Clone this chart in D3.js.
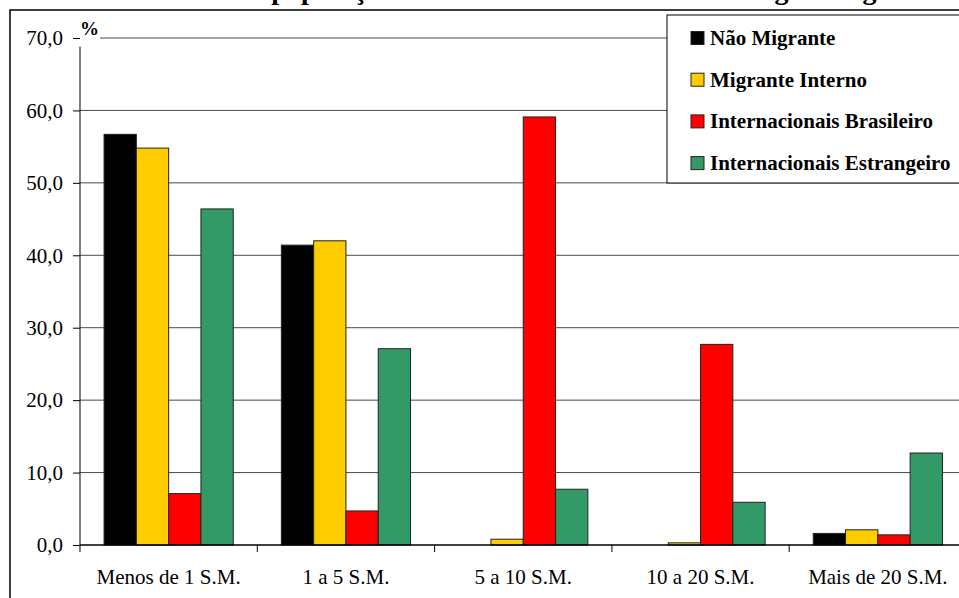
<!DOCTYPE html>
<html>
<head>
<meta charset="utf-8">
<script src="https://cdn.jsdelivr.net/npm/d3@7"></script>
<style>
  html, body { margin: 0; padding: 0; background: #fff; }
  svg { display: block; }
  svg text { font-family: "Liberation Serif", "Times New Roman", serif !important; }
</style>
</head>
<body>
<svg id="chart" width="959" height="598"></svg>
<script>
// Faixas de rendimento (salários mínimos)
const categories = ["Menos de 1 S.M.", "1 a 5 S.M.", "5 a 10 S.M.", "10 a 20 S.M.", "Mais de 20 S.M."];
const seriesNames = ["Não Migrante", "Migrante Interno", "Internacionais Brasileiro", "Internacionais Estrangeiro"];
const seriesColors = ["#000000", "#FFCC00", "#FF0000", "#339966"];

// Percentual por faixa, uma lista por série
const naoMigrante      = [56.7, 41.4, 0.0, 0.0, 1.6];
const migranteInterno  = [54.8, 42.0, 0.8, 0.3, 2.1];
const intBrasileiro    = [7.1, 4.7, 59.1, 27.7, 1.4];
const intEstrangeiro   = [46.4, 27.1, 7.7, 5.9, 12.7];
const seriesValues = [naoMigrante, migranteInterno, intBrasileiro, intEstrangeiro];

const yTicks = [0, 10, 20, 30, 40, 50, 60, 70];
const titleText = "Renda da população em salários mínimos e a sua origem migratória";

(function draw() {
  const svg = d3.select("#chart");

  const plotLeft = 80, plotBottom = 545, plotTop = 38, step = 177.3;
  const x0 = d3.scaleBand().domain(categories).range([plotLeft, plotLeft + step * categories.length]).padding(0);
  const x1 = d3.scaleBand().domain(seriesNames).range([0, x0.bandwidth()]).paddingInner(0).paddingOuter(0.745);
  const y = d3.scaleLinear().domain([0, 70]).range([plotBottom, plotTop]);
  const plotRight = x0.range()[1];

  // Título (cortado no topo)
  svg.append("text")
    .attr("x", 150).attr("y", -1)
    .attr("font-size", 28).attr("font-weight", "bold")
    .text(titleText);

  // Moldura externa
  svg.append("rect")
    .attr("x", 10).attr("y", 10).attr("width", 980).attr("height", 620)
    .attr("fill", "none").attr("stroke", "#000").attr("stroke-width", 1.5);

  // Linhas de grade
  svg.append("g").selectAll("line")
    .data(yTicks.filter(d => d > 0))
    .join("line")
    .attr("x1", d => d === 70 ? 100 : plotLeft)
    .attr("x2", plotRight)
    .attr("y1", d => y(d)).attr("y2", d => y(d))
    .attr("stroke", "#4a4a4a").attr("stroke-width", 1);

  // Barras
  const groups = svg.append("g").selectAll("g")
    .data(categories)
    .join("g")
    .attr("transform", d => `translate(${x0(d)},0)`);

  groups.selectAll("rect")
    .data((c, i) => seriesNames.map((s, k) => ({ s, k, v: seriesValues[k][i] })).filter(d => d.v > 0))
    .join("rect")
    .attr("x", d => x1(d.s))
    .attr("width", x1.bandwidth())
    .attr("y", d => y(d.v))
    .attr("height", d => y(0) - y(d.v))
    .attr("fill", d => seriesColors[d.k])
    .attr("stroke", "#222").attr("stroke-width", 1);

  // Eixo Y
  const yAxis = d3.axisLeft(y)
    .tickValues(yTicks)
    .tickSize(7)
    .tickPadding(10)
    .tickFormat(d => d3.format(".1f")(d).replace(".", ","));
  const gy = svg.append("g").attr("transform", `translate(${plotLeft},0)`).call(yAxis);
  gy.attr("font-family", null);
  gy.select(".domain").remove();
  gy.selectAll(".tick line").attr("stroke", "#000");
  gy.selectAll(".tick text").attr("font-size", 21).attr("fill", "#000");
  gy.append("line")
    .attr("x1", 0).attr("x2", 0)
    .attr("y1", y(68.8)).attr("y2", y(0))
    .attr("stroke", "#000").attr("stroke-width", 1);

  // Unidade
  svg.append("text")
    .attr("x", 80).attr("y", 35)
    .attr("font-size", 19).attr("font-weight", "bold")
    .text("%");

  // Eixo X
  svg.append("line")
    .attr("x1", plotLeft).attr("x2", plotRight)
    .attr("y1", y(0)).attr("y2", y(0))
    .attr("stroke", "#000").attr("stroke-width", 1.5);

  const boundaries = categories.map(c => x0(c)).concat([plotRight]);
  svg.append("g").selectAll("line")
    .data(boundaries)
    .join("line")
    .attr("x1", d => d).attr("x2", d => d)
    .attr("y1", y(0)).attr("y2", y(0) + 7)
    .attr("stroke", "#000");

  svg.append("g").selectAll("text")
    .data(categories)
    .join("text")
    .attr("x", d => x0(d) + x0.bandwidth() / 2)
    .attr("y", 584)
    .attr("text-anchor", "middle")
    .attr("font-size", 21)
    .text(d => d);

  // Legenda
  const legend = svg.append("g");
  legend.append("rect")
    .attr("x", 667).attr("y", 15).attr("width", 400).attr("height", 168)
    .attr("fill", "#fff").attr("stroke", "#000").attr("stroke-width", 1);

  const items = legend.selectAll("g.item")
    .data(seriesNames)
    .join("g")
    .attr("class", "item")
    .attr("transform", (d, i) => `translate(691,${38 + i * 41.7})`);
  items.append("rect")
    .attr("x", 0).attr("y", -6.5).attr("width", 13).attr("height", 13)
    .attr("fill", (d, i) => seriesColors[i])
    .attr("stroke", "#222").attr("stroke-width", 1);
  items.append("text")
    .attr("x", 19).attr("y", 7)
    .attr("font-size", 21).attr("font-weight", "bold")
    .text(d => d);
})();
</script>
</body>
</html>
